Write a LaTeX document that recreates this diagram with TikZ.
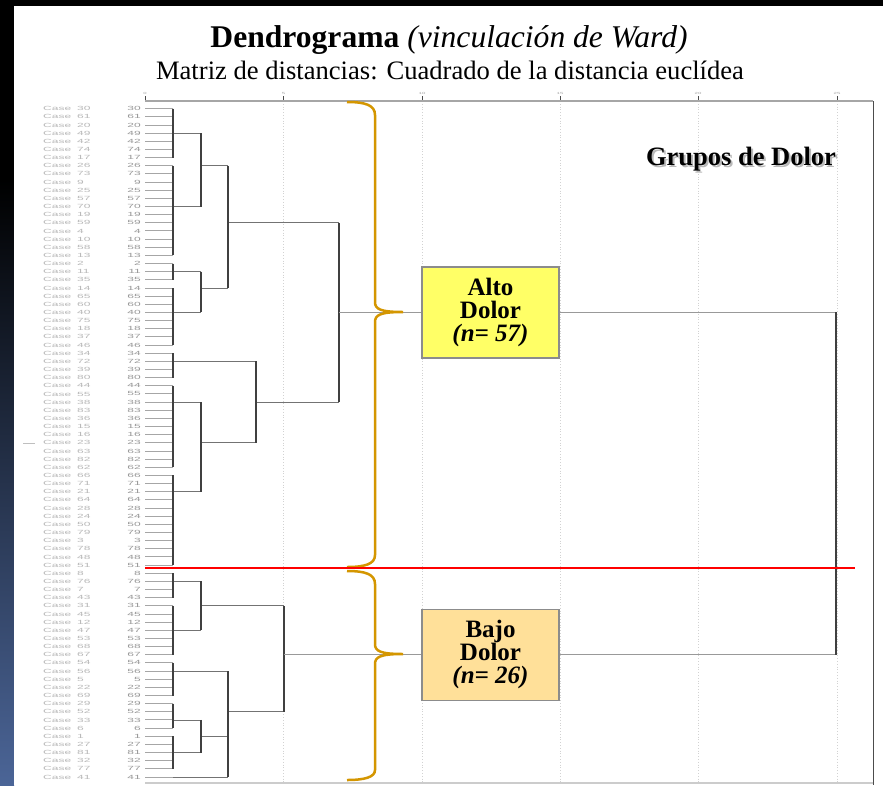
\documentclass[tikz,border=0pt]{standalone}
\usepackage{fontspec}
\setmainfont{Liberation Serif}
\setsansfont{Liberation Sans}
\usepackage{tikz}
\usetikzlibrary{arrows,shapes}
\definecolor{altofill}{RGB}{255,255,102}
\definecolor{bajofill}{RGB}{255,224,153}
\definecolor{bracegold}{RGB}{212,150,0}
\definecolor{slideblue}{RGB}{75,101,151}
\tikzstyle{leaf}=[draw,gray!70,line width=1pt]
\tikzstyle{merge}=[draw,black!75,line width=1.6pt]
\tikzstyle{stem}=[draw,black!55,line width=0.8pt]
\tikzstyle{grid line}=[draw,gray!35,dotted,line width=0.8pt]
\tikzstyle{caselabel}=[anchor=west,inner sep=0pt,text=gray!55,font=\sffamily\fontsize{6}{6}\selectfont]
\tikzstyle{casenum}=[anchor=east,inner sep=0pt,text=gray!80,font=\sffamily\fontsize{6}{6}\selectfont]
\tikzstyle{ticklabel}=[anchor=south,inner sep=0pt,text=gray!70,font=\sffamily\fontsize{3}{3}\selectfont]
\tikzstyle{groupbox}=[draw=gray!90,line width=1.5pt,minimum width=137pt,minimum height=91pt,align=center,inner sep=0pt,font=\bfseries\fontsize{25}{23}\selectfont]
\tikzstyle{brace}=[draw=bracegold,line width=2.5pt]
\newcommand{\ry}[1]{108.7+8.15*#1}

\begin{document}
\begin{tikzpicture}[x=1pt,y=-1pt]
    \useasboundingbox (0,0) rectangle (883,785);
    % Slide background
    \fill[black] (0,0) rectangle (883,785);
    \shade[top color=black,bottom color=slideblue] (0,180) rectangle (14,785);
    \fill[white] (14,6) rectangle (883,785);
    % Titles
    \node[anchor=base,font=\fontsize{31.6}{34}\selectfont] (title) at (449,47)
        {\textbf{Dendrograma} \textit{(vinculación de Ward)}};
    \node[anchor=base,font=\fontsize{26.6}{30}\selectfont] (subtitle) at (450,79)
        {Matriz de distancias: Cuadrado de la distancia euclídea};
    % Axis frame, ticks and dotted grid
    \foreach \gx in {283.5,422,560,698,837}
        \draw[grid line] (\gx,101) -- (\gx,783);
    \foreach \gx/\lab in {145/0,283.5/5,422/10,560/15,698/20,837/25} {
        \draw[black!70,line width=0.8pt] (\gx,96) -- (\gx,101);
        \node[ticklabel] (tick\lab) at (\gx,95) {\scalebox{2}[1]{\lab}};
    }
    \draw[gray!70,line width=1.2pt] (145,101) -- (873,101);
    \draw[black!70,line width=1pt] (873,101) -- (873,785);
    \draw[gray!40,line width=1.2pt] (145,783) -- (873,783);
    \draw[gray!50,line width=0.6pt] (23,443) -- (35,443);
    % First we draw the cases
    \foreach \c [count=\i from 0] in {30,61,20,49,42,74,17,26,73,9,25,57,70,19,59,4,10,58,13,2,11,35,14,65,60,40,75,18,37,46,34,72,39,80,44,55,38,83,36,15,16,23,63,82,62,66,71,21,64,28,24,50,79,3,78,48,51,8,76,7,43,31,45,12,47,53,68,67,54,56,5,22,69,29,52,33,6,1,27,81,32,77,41} {
        \node[caselabel] (case\c) at (43,{\ry{\i}}) {\scalebox{2}[1]{Case\hspace{3pt}\c}};
        \node[casenum] (num\c) at (141,{\ry{\i}}) {\scalebox{2}[1]{\c}};
        \path[leaf] (145,{\ry{\i}}) -- (173,{\ry{\i}});
    }
    \path[stem] (173,{\ry{82}}) -- (228,{\ry{82}});
    % Merge the clusters: x / first row / last row / stem row / stem end
    \foreach \mx/\ra/\rb/\rs/\tx in {173/0/6/3/201, 173/7/18/12/201, 173/19/21/20/201,
        173/22/29/25/201, 173/30/33/31/256, 173/34/44/36/201, 173/45/56/47/201,
        173/57/60/58/201, 173/61/67/64/201, 173/68/72/69/228, 173/73/76/75/201,
        173/77/81/79/201, 201/3/12/7/228, 201/20/25/22/228, 201/36/47/41/256,
        201/58/64/61/284, 201/75/79/77/228, 228/7/22/14/339, 228/69/82/74/284,
        256/31/41/36/339} {
        \path[stem] (\mx,{\ry{\rs}}) -- (\tx,{\ry{\rs}});
        \path[merge] (\mx,{\ry{\ra}}) -- (\mx,{\ry{\rb}});
    }
    \path[merge] (339,{\ry{14}}) -- (339,{\ry{36}});
    \path[merge] (284,{\ry{61}}) -- (284,{\ry{74}});
    % The two pain groups
    \node[groupbox,fill=altofill] (alto) at (490.5,{\ry{25}}) {Alto\\Dolor\\\textit{(n= 57)}};
    \node[groupbox,fill=bajofill] (bajo) at (490.5,{\ry{67}}) {Bajo\\Dolor\\\textit{(n= 26)}};
    \coordinate (altojoin) at (836,{\ry{25}});
    \coordinate (bajojoin) at (836,{\ry{67}});
    \path[stem,gray!80] (339,{\ry{25}}) -- (alto.west);
    \path[stem,gray!80] (alto.east) -- (altojoin);
    \path[stem,gray!80] (284,{\ry{67}}) -- (bajo.west);
    \path[stem,gray!80] (bajo.east) -- (bajojoin);
    \path[merge] (altojoin) -- (bajojoin);
    % Braces
    \path[brace] (347,102) .. controls (365,102) and (375,105) .. (375,115) -- (375,302)
        .. controls (375,309) and (380,312) .. (403,312)
        .. controls (380,312) and (375,315) .. (375,322) -- (375,555)
        .. controls (375,564) and (365,567) .. (347,567);
    \path[brace] (347,571) .. controls (365,571) and (375,574) .. (375,584) -- (375,644)
        .. controls (375,651) and (380,654) .. (403,654)
        .. controls (380,654) and (375,657) .. (375,664) -- (375,770)
        .. controls (375,777) and (365,780) .. (347,780);
    % Cut line
    \draw[red,line width=2.4pt] (145,568) -- (855,568);
    % Group heading with shadow
    \node[anchor=base,text=gray!55,font=\bfseries\fontsize{26.5}{30}\selectfont] (grupos shadow) at (743,167) {Grupos de Dolor};
    \node[anchor=base,font=\bfseries\fontsize{26.5}{30}\selectfont] (grupos) at (741,165) {Grupos de Dolor};
\end{tikzpicture}
\end{document}
